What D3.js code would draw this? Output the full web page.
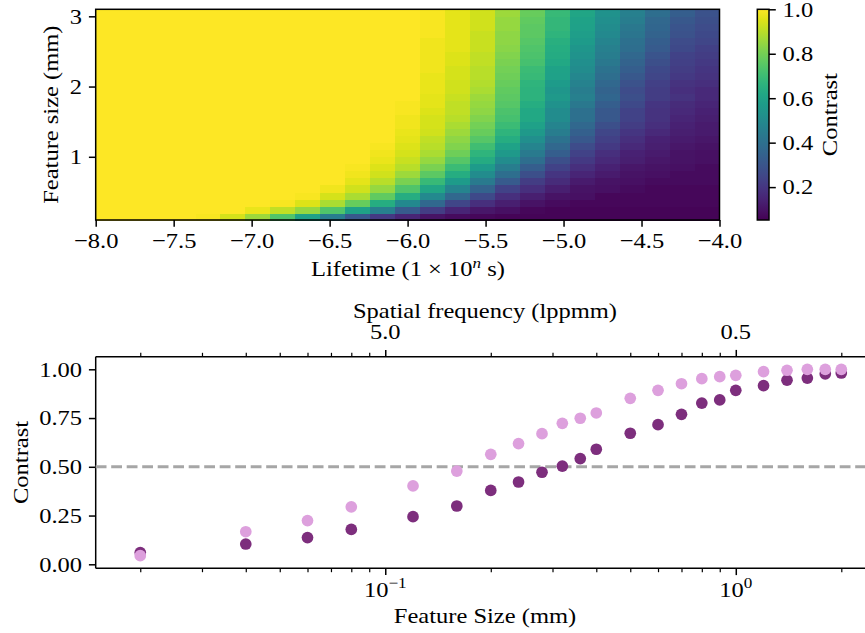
<!DOCTYPE html>
<html>
<head>
<meta charset="utf-8">
<script src="https://cdn.jsdelivr.net/npm/d3@7"></script>
<style>
body { margin: 0; background: #fff; }
svg { display: block; font-family: "Liberation Serif", serif; }
</style>
</head>
<body>
<div id="chart"></div>
<script>
var width = 865;
var height = 633;

// heatmap columns: lifetime (log10 s), left edge of each cell
var lifetimes = [-8.00, -7.84, -7.68, -7.52, -7.36, -7.20, -7.04, -6.88, -6.72, -6.56, -6.40, -6.24,
  -6.08, -5.92, -5.76, -5.60, -5.44, -5.28, -5.12, -4.96, -4.80, -4.64, -4.48, -4.32, -4.16];
// heatmap rows: feature size (mm), lower edge of each cell
var featureSizes = [0.1, 0.2, 0.3, 0.4, 0.5, 0.6, 0.7, 0.8, 0.9, 1.0, 1.1, 1.2, 1.3, 1.4, 1.5,
  1.6, 1.7, 1.8, 1.9, 2.0, 2.1, 2.2, 2.3, 2.4, 2.5, 2.6, 2.7, 2.8, 2.9, 3.0];
// contrast, one row per feature size (bottom to top), one value per lifetime
var contrastGrid = [
  [1,1,1,1,.99,.94,.86,.74,.60,.45,.31,.21,.15,.10,.08,.07,.06,.06,.06,.06,.06,.06,.06,.06,.06],
  [1,1,1,1,1,1,.97,.91,.85,.74,.60,.46,.32,.22,.15,.11,.09,.07,.06,.06,.06,.06,.06,.06,.06],
  [1,1,1,1,1,1,1,.99,.95,.88,.78,.64,.50,.37,.25,.18,.13,.10,.08,.07,.07,.07,.07,.07,.07],
  [1,1,1,1,1,1,1,1,.99,.94,.88,.77,.64,.50,.37,.26,.18,.13,.10,.09,.07,.07,.07,.07,.07],
  [1,1,1,1,1,1,1,1,1,.98,.93,.85,.74,.61,.48,.35,.24,.18,.13,.10,.09,.08,.07,.07,.07],
  [1,1,1,1,1,1,1,1,1,1,.96,.90,.81,.69,.57,.44,.32,.22,.17,.12,.10,.09,.08,.08,.08],
  [1,1,1,1,1,1,1,1,1,1,.98,.93,.86,.76,.64,.51,.39,.28,.20,.15,.12,.10,.09,.08,.08],
  [1,1,1,1,1,1,1,1,1,1,.99,.95,.90,.81,.70,.57,.45,.33,.24,.18,.14,.11,.10,.09,.08],
  [1,1,1,1,1,1,1,1,1,1,1,.97,.92,.85,.75,.63,.51,.39,.28,.21,.16,.13,.11,.10,.09],
  [1,1,1,1,1,1,1,1,1,1,1,.98,.94,.88,.79,.67,.56,.44,.33,.24,.18,.14,.12,.10,.09],
  [1,1,1,1,1,1,1,1,1,1,1,.99,.95,.90,.82,.71,.60,.48,.37,.27,.21,.16,.13,.11,.10],
  [1,1,1,1,1,1,1,1,1,1,1,1,.96,.91,.84,.75,.64,.52,.41,.31,.23,.18,.14,.12,.11],
  [1,1,1,1,1,1,1,1,1,1,1,1,.97,.93,.86,.78,.67,.56,.45,.34,.25,.20,.16,.13,.12],
  [1,1,1,1,1,1,1,1,1,1,1,1,.98,.94,.88,.80,.70,.59,.48,.37,.28,.22,.18,.14,.12],
  [1,1,1,1,1,1,1,1,1,1,1,1,.98,.94,.90,.82,.72,.62,.51,.40,.31,.24,.19,.15,.13],
  [1,1,1,1,1,1,1,1,1,1,1,1,.99,.95,.91,.84,.73,.62,.51,.40,.31,.24,.19,.16,.14],
  [1,1,1,1,1,1,1,1,1,1,1,1,.99,.96,.91,.85,.75,.64,.53,.43,.33,.26,.20,.17,.15],
  [1,1,1,1,1,1,1,1,1,1,1,1,1,.96,.92,.86,.76,.66,.56,.46,.36,.28,.22,.19,.16],
  [1,1,1,1,1,1,1,1,1,1,1,1,1,.97,.93,.88,.77,.66,.55,.45,.35,.27,.22,.18,.16],
  [1,1,1,1,1,1,1,1,1,1,1,1,1,.97,.93,.89,.78,.67,.57,.47,.37,.29,.23,.19,.18],
  [1,1,1,1,1,1,1,1,1,1,1,1,1,.97,.94,.90,.79,.69,.59,.49,.39,.31,.25,.21,.19],
  [1,1,1,1,1,1,1,1,1,1,1,1,1,.98,.94,.90,.80,.70,.60,.51,.41,.33,.26,.22,.20],
  [1,1,1,1,1,1,1,1,1,1,1,1,1,.98,.95,.91,.81,.72,.62,.52,.43,.35,.28,.23,.21],
  [1,1,1,1,1,1,1,1,1,1,1,1,1,.98,.95,.91,.82,.73,.63,.54,.45,.37,.30,.24,.22],
  [1,1,1,1,1,1,1,1,1,1,1,1,1,.98,.96,.92,.83,.74,.64,.55,.46,.39,.32,.26,.23],
  [1,1,1,1,1,1,1,1,1,1,1,1,1,.98,.96,.92,.84,.75,.65,.57,.48,.40,.33,.27,.25],
  [1,1,1,1,1,1,1,1,1,1,1,1,1,.99,.96,.92,.84,.76,.67,.58,.50,.42,.35,.29,.26],
  [1,1,1,1,1,1,1,1,1,1,1,1,1,.99,.96,.93,.85,.76,.68,.59,.51,.43,.36,.30,.27],
  [1,1,1,1,1,1,1,1,1,1,1,1,1,.99,.96,.93,.85,.77,.68,.60,.52,.45,.37,.31,.28],
  [1,1,1,1,1,1,1,1,1,1,1,1,1,.99,.96,.93,.86,.78,.69,.61,.53,.46,.39,.33,.29]
];
var lifetimeTicks = [-8, -7.5, -7, -6.5, -6, -5.5, -5, -4.5, -4];
var sizeTicks = [1, 2, 3];
var colorbarTicks = [0.2, 0.4, 0.6, 0.8, 1.0];

// scatter: feature size (mm) vs contrast, two series
var sizes = [0.02, 0.04, 0.06, 0.08, 0.12, 0.16, 0.2, 0.24, 0.28, 0.32, 0.36, 0.4,
  0.5, 0.6, 0.7, 0.8, 0.9, 1.0, 1.2, 1.4, 1.6, 1.8, 2.0];
var contrastDark = [0.060, 0.104, 0.137, 0.179, 0.244, 0.299, 0.379, 0.422, 0.472, 0.503, 0.542, 0.590,
  0.672, 0.716, 0.769, 0.827, 0.843, 0.892, 0.916, 0.944, 0.955, 0.977, 0.981];
var contrastLight = [0.044, 0.167, 0.224, 0.295, 0.402, 0.478, 0.564, 0.619, 0.670, 0.723, 0.749, 0.776,
  0.851, 0.892, 0.926, 0.952, 0.962, 0.969, 0.988, 0.995, 1.000, 1.000, 1.000];
var contrastTicks = [0, 0.25, 0.5, 0.75, 1.0];
var spatialFreqLabels = [5.0, 0.5];   // lppmm, top axis

var fontSize = 21.5;
var majorLen = 6.8, minorLen = 3.9;

var svg = d3.select("#chart")
    .append("svg")
    .attr("width", width)
    .attr("height", height);

function styleAxis(g, len) {
  g.select(".domain").remove();
  g.selectAll(".tick line").attr("stroke", "#000").attr("stroke-width", len > 5 ? 1.5 : 1.2);
  g.selectAll(".tick text").attr("fill", "#000").style("font-size", fontSize + "px")
    .style("font-family", "Liberation Serif");
}

// ---------- top: heatmap ----------
var hm = {left: 95.7, right: 719.5, top: 9.3, bottom: 220};
var xh = d3.scaleLinear().domain([-8, -4]).range([hm.left, hm.right]);
var yh = d3.scaleLinear().domain([0.1, 3.1]).range([hm.bottom, hm.top]);
var color = d3.scaleSequential(d3.interpolateViridis).domain([0.052, 1]);
var colW = 0.16, rowH = 0.1;

var cells = [];
contrastGrid.forEach(function(row, r) {
  row.forEach(function(v, c) {
    cells.push({l: lifetimes[c], s: featureSizes[r], v: v});
  });
});

svg.append("g")
  .selectAll("rect")
  .data(cells)
  .enter().append("rect")
    .attr("x", function(d) { return xh(d.l); })
    .attr("y", function(d) { return yh(d.s + rowH); })
    .attr("width", function(d) { return xh(d.l + colW) - xh(d.l) + 0.6; })
    .attr("height", function(d) { return yh(d.s) - yh(d.s + rowH) + 0.6; })
    .attr("fill", function(d) { return color(d.v); })
    .attr("shape-rendering", "crispEdges");

svg.append("rect")
    .attr("x", hm.left).attr("y", hm.top)
    .attr("width", hm.right - hm.left).attr("height", hm.bottom - hm.top)
    .attr("fill", "none").attr("stroke", "#000").attr("stroke-width", 1.5);

svg.append("g")
    .attr("transform", "translate(0," + hm.bottom + ")")
    .call(d3.axisBottom(xh).tickValues(lifetimeTicks).tickFormat(d3.format(".1f"))
      .tickSize(majorLen).tickPadding(5.8))
    .call(styleAxis, majorLen);

svg.append("g")
    .attr("transform", "translate(" + hm.left + ",0)")
    .call(d3.axisLeft(yh).tickValues(sizeTicks).tickFormat(d3.format("d"))
      .tickSize(majorLen).tickPadding(6.8))
    .call(styleAxis, majorLen);

var lt = svg.append("text")
    .attr("x", 408).attr("y", 275.5)
    .attr("text-anchor", "middle")
    .style("font-size", fontSize + "px");
lt.append("tspan").text("Lifetime (1 × 10");
lt.append("tspan").attr("dy", -8).style("font-size", "15px").style("font-style", "italic").text("n");
lt.append("tspan").attr("dy", 8).text(" s)");

svg.append("text")
    .attr("transform", "translate(57.5," + (hm.top + hm.bottom) / 2 + ") rotate(-90)")
    .attr("text-anchor", "middle")
    .style("font-size", fontSize + "px")
    .text("Feature size (mm)");

// colorbar
var cb = {left: 757.3, width: 11.7};
var yc = d3.scaleLinear().domain(color.domain()).range([hm.bottom, hm.top]);
var grad = svg.append("defs").append("linearGradient")
    .attr("id", "cbgrad").attr("x1", 0).attr("y1", 1).attr("x2", 0).attr("y2", 0);
d3.range(0, 1.0001, 0.05).forEach(function(t) {
  grad.append("stop").attr("offset", t).attr("stop-color", d3.interpolateViridis(t));
});
svg.append("rect")
    .attr("x", cb.left).attr("y", hm.top)
    .attr("width", cb.width).attr("height", hm.bottom - hm.top)
    .attr("fill", "url(#cbgrad)")
    .attr("stroke", "#000").attr("stroke-width", 1.5);

svg.append("g")
    .attr("transform", "translate(" + (cb.left + cb.width) + ",0)")
    .call(d3.axisRight(yc).tickValues(colorbarTicks).tickFormat(d3.format(".1f"))
      .tickSize(majorLen).tickPadding(6.8))
    .call(styleAxis, majorLen);

svg.append("text")
    .attr("transform", "translate(836.5," + (hm.top + hm.bottom) / 2 + ") rotate(-90)")
    .attr("text-anchor", "middle")
    .style("font-size", fontSize + "px")
    .text("Contrast");

// ---------- bottom: scatter ----------
var sc = {left: 95.7, right: 885.4, top: 356.7, bottom: 568.3};
var xs = d3.scaleLog().domain([0.014925, 2.672]).range([sc.left, sc.right]);
var ys = d3.scaleLinear().domain([-0.0205, 1.0646]).range([sc.bottom, sc.top]);

var majors = [0.1, 1];
var minors = xs.ticks().filter(function(d) {
  return Math.abs(Math.log10(d) - Math.round(Math.log10(d))) > 1e-6;
});

// bottom axis, major + minor
svg.append("g")
    .attr("transform", "translate(0," + sc.bottom + ")")
    .call(d3.axisBottom(xs).tickValues(majors).tickFormat("").tickSize(majorLen))
    .call(styleAxis, majorLen);
svg.append("g")
    .attr("transform", "translate(0," + sc.bottom + ")")
    .call(d3.axisBottom(xs).tickValues(minors).tickFormat("").tickSize(minorLen))
    .call(styleAxis, minorLen);

// top axis mirrors the ticks
svg.append("g")
    .attr("transform", "translate(0," + sc.top + ")")
    .call(d3.axisTop(xs).tickValues(majors).tickFormat("").tickSize(majorLen))
    .call(styleAxis, majorLen);
svg.append("g")
    .attr("transform", "translate(0," + sc.top + ")")
    .call(d3.axisTop(xs).tickValues(minors).tickFormat("").tickSize(minorLen))
    .call(styleAxis, minorLen);

svg.append("g")
    .attr("transform", "translate(" + sc.left + ",0)")
    .call(d3.axisLeft(ys).tickValues(contrastTicks).tickFormat(d3.format(".2f"))
      .tickSize(majorLen).tickPadding(6.8))
    .call(styleAxis, majorLen);

// spines (right side is cut by the page)
svg.append("line").attr("x1", sc.left).attr("x2", width).attr("y1", sc.top).attr("y2", sc.top)
    .attr("stroke", "#000").attr("stroke-width", 1.5);
svg.append("line").attr("x1", sc.left).attr("x2", width).attr("y1", sc.bottom).attr("y2", sc.bottom)
    .attr("stroke", "#000").attr("stroke-width", 1.5);
svg.append("line").attr("x1", sc.left).attr("x2", sc.left).attr("y1", sc.top).attr("y2", sc.bottom)
    .attr("stroke", "#000").attr("stroke-width", 1.5);

// bottom tick labels 10^-1, 10^0
majors.forEach(function(d) {
  var t = svg.append("text")
      .attr("x", xs(d)).attr("y", 596.7)
      .attr("text-anchor", "middle")
      .style("font-size", fontSize + "px");
  t.append("tspan").text("10");
  t.append("tspan").attr("dy", -8.5).style("font-size", "15px")
    .text(d3.format("d")(Math.log10(d)).replace("-", "\u2212"));
});

// top tick labels in spatial frequency
spatialFreqLabels.forEach(function(f) {
  svg.append("text")
      .attr("x", xs(1 / (2 * f))).attr("y", 339.3)
      .attr("text-anchor", "middle")
      .style("font-size", fontSize + "px")
      .text(d3.format(".1f")(f));
});

svg.append("text")
    .attr("x", 485).attr("y", 317.5)
    .attr("text-anchor", "middle")
    .style("font-size", fontSize + "px")
    .text("Spatial frequency (lppmm)");

svg.append("text")
    .attr("x", 485).attr("y", 623)
    .attr("text-anchor", "middle")
    .style("font-size", fontSize + "px")
    .text("Feature Size (mm)");

svg.append("text")
    .attr("transform", "translate(28.3," + (sc.top + sc.bottom) / 2 + ") rotate(-90)")
    .attr("text-anchor", "middle")
    .style("font-size", fontSize + "px")
    .text("Contrast");

// 0.5 reference line
svg.append("line")
    .attr("x1", sc.left).attr("x2", width)
    .attr("y1", ys(0.5)).attr("y2", ys(0.5))
    .attr("stroke", "#a6a6a6").attr("stroke-width", 2.9)
    .attr("stroke-dasharray", "10.8,4.7");

// points: dark series first, light on top
svg.append("g").selectAll("circle")
    .data(sizes)
    .enter().append("circle")
      .attr("cx", function(d) { return xs(d); })
      .attr("cy", function(d, i) { return ys(contrastDark[i]); })
      .attr("r", 5.85)
      .attr("fill", "#7d2e7d");

svg.append("g").selectAll("circle")
    .data(sizes)
    .enter().append("circle")
      .attr("cx", function(d) { return xs(d); })
      .attr("cy", function(d, i) { return ys(contrastLight[i]); })
      .attr("r", 5.85)
      .attr("fill", "#dda0dd");

// the reference serif is wider than Liberation Serif: stretch each label a little
svg.selectAll("text").each(function() {
  var w = this.getComputedTextLength();
  d3.select(this).attr("textLength", w * 1.14).attr("lengthAdjust", "spacingAndGlyphs");
});
</script>
</body>
</html>
